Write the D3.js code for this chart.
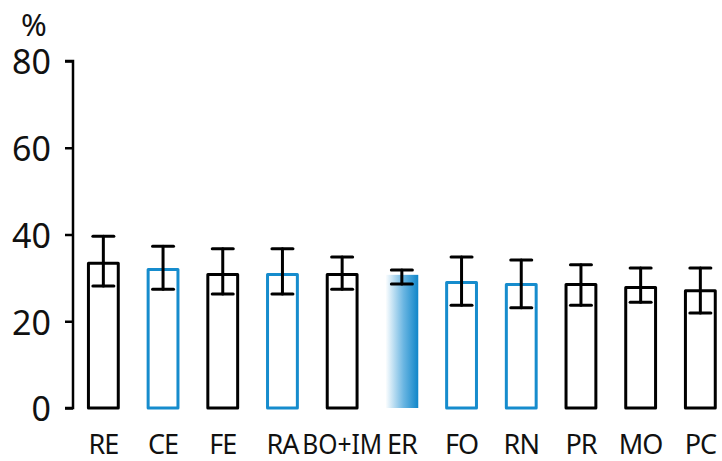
<!DOCTYPE html>
<html>
<head>
<meta charset="utf-8">
<script src="https://cdn.jsdelivr.net/npm/d3@7"></script>
<style>
  html, body { margin: 0; padding: 0; background: #fff; }
  svg { display: block; }
  text { font-family: "Noto Sans", "Open Sans", sans-serif; fill: #111; }
</style>
</head>
<body>
<svg id="chart" width="722" height="461"></svg>
<script>
// Mean percentage per group with lower / upper error bounds
const categories = ["RE", "CE", "FE", "RA", "BO+IM", "ER", "FO", "RN", "PR", "MO", "PC"];
const means      = [33.7, 32.3, 31.1, 31.1, 31.1, 30.7, 29.3, 28.8, 28.8, 28.1, 27.4];
const errLow     = [28.1, 27.4, 26.3, 26.3, 27.4, 28.6, 23.7, 23.1, 23.7, 24.4, 21.9];
const errHigh    = [39.6, 37.3, 36.7, 36.7, 34.8, 31.8, 34.8, 34.1, 33.0, 32.3, 32.3];
// Bar style per group: outline in black, outline in blue, or gradient fill
const styles     = ["black", "blue", "black", "blue", "black", "gradient", "blue", "blue", "black", "black", "black"];
const yTicks     = [0, 20, 40, 60, 80];

const BLUE = "#168ccd";
const svg = d3.select("#chart");

const x = d3.scaleBand()
  .domain(categories)
  .range([73.5, 730.2])
  .paddingInner(0.45)
  .paddingOuter(0.225);

const y = d3.scaleLinear().domain([0, 80]).range([408, 61]);

// Gradient fill for the highlighted bar
const defs = svg.append("defs");
const grad = defs.append("linearGradient")
  .attr("id", "erGrad").attr("x1", "0%").attr("x2", "100%").attr("y1", "0%").attr("y2", "0%");
grad.append("stop").attr("offset", "0%").attr("stop-color", "#ffffff");
grad.append("stop").attr("offset", "55%").attr("stop-color", "#6bb6e2");
grad.append("stop").attr("offset", "100%").attr("stop-color", "#0f86c9");

const data = categories.map((c, i) => ({
  c, v: means[i], lo: errLow[i], hi: errHigh[i], s: styles[i]
}));

// Bars
const sw = 3;
svg.append("g").selectAll("rect")
  .data(data).join("rect")
  .attr("x", d => d.s === "gradient" ? x(d.c) : x(d.c) + sw / 2)
  .attr("y", d => d.s === "gradient" ? y(d.v) : y(d.v) + sw / 2)
  .attr("width", d => d.s === "gradient" ? x.bandwidth() : x.bandwidth() - sw)
  .attr("height", d => d.s === "gradient" ? y(0) - y(d.v) : y(0) - y(d.v) - sw / 2)
  .attr("fill", d => d.s === "gradient" ? "url(#erGrad)" : "none")
  .attr("stroke", d => d.s === "gradient" ? "none" : (d.s === "blue" ? BLUE : "#000"))
  .attr("stroke-width", sw)
  .attr("stroke-linejoin", "round");

// Error bars
const cap = 10.5;
const eb = svg.append("g").attr("stroke", "#000").attr("stroke-width", 3).attr("stroke-linecap", "round");
data.forEach(d => {
  const cx = x(d.c) + x.bandwidth() / 2;
  eb.append("line").attr("x1", cx).attr("x2", cx).attr("y1", y(d.hi)).attr("y2", y(d.lo));
  eb.append("line").attr("x1", cx - cap).attr("x2", cx + cap).attr("y1", y(d.hi)).attr("y2", y(d.hi));
  eb.append("line").attr("x1", cx - cap).attr("x2", cx + cap).attr("y1", y(d.lo)).attr("y2", y(d.lo));
});

// Y axis
const yAxis = d3.axisLeft(y).tickValues(yTicks).tickSize(8).tickPadding(14);
const gy = svg.append("g").attr("transform", "translate(73,0)").call(yAxis);
gy.select(".domain").attr("stroke", "#000").attr("stroke-width", 2.5)
  .attr("d", `M-8,${y(80)}H0V${y(0)}H-8`);
gy.selectAll(".tick line").attr("stroke", "#000").attr("stroke-width", 2.5);
gy.selectAll(".tick text")
  .attr("dy", "0.38em")
  .style("font-size", "34px")
  .style("font-family", "'Noto Sans', sans-serif")
  .attr("fill", "#111");

// Unit label
svg.append("text").attr("x", 34).attr("y", 36).attr("text-anchor", "middle")
  .style("font-size", "31px").text("%");

// X labels
const xAxis = d3.axisBottom(x).tickSize(0).tickPadding(0);
const gx = svg.append("g").attr("transform", "translate(0,454)").call(xAxis);
gx.select(".domain").remove();
gx.selectAll(".tick text")
  .attr("y", 0).attr("dy", 0)
  .style("font-size", "27px")
  .style("letter-spacing", "-1px")
  .style("font-family", "'Noto Sans', sans-serif")
  .attr("fill", "#111")
  .filter(d => d === "BO+IM")
  .attr("textLength", 80)
  .attr("lengthAdjust", "spacingAndGlyphs")
  .style("letter-spacing", "0px");
</script>
</body>
</html>
